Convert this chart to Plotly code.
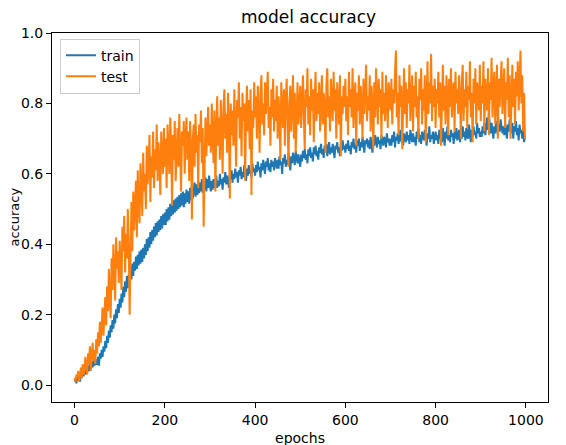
import plotly.graph_objects as go

epochs = list(range(0, 1000, 2))

train_acc = [
    0.01, 0.02, 0.005, 0.025, 0.015, 0.03, 0.01, 0.035, 0.02, 0.04, 0.025, 0.045, 0.03, 0.05, 0.035, 0.055, 0.04, 0.06, 0.045, 0.065, 0.05, 0.07, 0.055, 0.075, 0.06,
    0.06, 0.08, 0.055, 0.09, 0.075, 0.10, 0.08, 0.11, 0.095, 0.125, 0.105, 0.14, 0.12, 0.155, 0.135, 0.17, 0.15, 0.185, 0.16, 0.20, 0.175, 0.215, 0.19, 0.23, 0.205,
    0.245, 0.22, 0.26, 0.235, 0.28, 0.25, 0.295, 0.265, 0.31, 0.275, 0.315, 0.29, 0.335, 0.30, 0.345, 0.31, 0.35, 0.325, 0.365, 0.33, 0.37, 0.34, 0.38, 0.345, 0.385,
    0.35, 0.39, 0.36, 0.40, 0.37, 0.415, 0.38, 0.42, 0.39, 0.435, 0.40, 0.44, 0.41, 0.45, 0.42, 0.46, 0.425, 0.465, 0.435, 0.47, 0.44, 0.48, 0.445, 0.485, 0.455,
    0.49, 0.455, 0.50, 0.465, 0.505, 0.47, 0.515, 0.48, 0.52, 0.485, 0.525, 0.49, 0.53, 0.495, 0.535, 0.50, 0.54, 0.505, 0.545, 0.51, 0.55, 0.505, 0.545, 0.515, 0.555,
    0.52, 0.55, 0.515, 0.56, 0.525, 0.565, 0.53, 0.555, 0.575, 0.535, 0.57, 0.54, 0.58, 0.545, 0.575, 0.55, 0.585, 0.545, 0.58, 0.555, 0.59, 0.55, 0.585, 0.56, 0.595,
    0.57, 0.55, 0.58, 0.555, 0.585, 0.56, 0.575, 0.595, 0.56, 0.58, 0.565, 0.60, 0.57, 0.585, 0.555, 0.59, 0.575, 0.605, 0.57, 0.595, 0.58, 0.56, 0.60, 0.585, 0.61,
    0.575, 0.60, 0.585, 0.615, 0.59, 0.605, 0.575, 0.61, 0.595, 0.62, 0.585, 0.605, 0.59, 0.625, 0.60, 0.58, 0.615, 0.595, 0.625, 0.60, 0.61, 0.59, 0.63, 0.605, 0.615,
    0.595, 0.625, 0.605, 0.635, 0.61, 0.62, 0.59, 0.63, 0.61, 0.64, 0.615, 0.60, 0.635, 0.62, 0.645, 0.61, 0.63, 0.605, 0.64, 0.62, 0.635, 0.61, 0.645, 0.625, 0.615,
    0.64, 0.615, 0.65, 0.625, 0.635, 0.60, 0.645, 0.63, 0.655, 0.62, 0.64, 0.625, 0.66, 0.635, 0.61, 0.65, 0.63, 0.66, 0.64, 0.625, 0.665, 0.645, 0.63, 0.655, 0.64,
    0.62, 0.655, 0.635, 0.665, 0.645, 0.67, 0.64, 0.655, 0.63, 0.67, 0.65, 0.675, 0.645, 0.66, 0.635, 0.675, 0.655, 0.68, 0.65, 0.665, 0.64, 0.675, 0.66, 0.685, 0.655,
    0.67, 0.645, 0.68, 0.66, 0.685, 0.65, 0.67, 0.69, 0.655, 0.675, 0.66, 0.685, 0.665, 0.645, 0.68, 0.67, 0.69, 0.66, 0.675, 0.65, 0.685, 0.665, 0.695, 0.67, 0.68,
    0.66, 0.685, 0.67, 0.695, 0.665, 0.68, 0.655, 0.69, 0.675, 0.70, 0.67, 0.685, 0.66, 0.695, 0.68, 0.70, 0.665, 0.69, 0.675, 0.705, 0.68, 0.66, 0.695, 0.685, 0.70,
    0.675, 0.695, 0.67, 0.705, 0.685, 0.66, 0.70, 0.68, 0.71, 0.69, 0.675, 0.705, 0.685, 0.695, 0.67, 0.71, 0.69, 0.68, 0.705, 0.695, 0.675, 0.715, 0.69, 0.70, 0.68,
    0.70, 0.68, 0.71, 0.69, 0.72, 0.675, 0.705, 0.695, 0.715, 0.685, 0.70, 0.725, 0.69, 0.71, 0.68, 0.715, 0.70, 0.69, 0.72, 0.695, 0.71, 0.685, 0.725, 0.70, 0.69,
    0.715, 0.69, 0.705, 0.68, 0.72, 0.70, 0.73, 0.69, 0.71, 0.685, 0.72, 0.70, 0.695, 0.725, 0.705, 0.68, 0.715, 0.70, 0.735, 0.69, 0.71, 0.70, 0.72, 0.685, 0.705,
    0.72, 0.695, 0.71, 0.685, 0.725, 0.70, 0.715, 0.69, 0.73, 0.705, 0.68, 0.72, 0.70, 0.735, 0.695, 0.71, 0.69, 0.725, 0.705, 0.715, 0.685, 0.72, 0.70, 0.73, 0.695,
    0.71, 0.725, 0.69, 0.715, 0.70, 0.735, 0.705, 0.72, 0.695, 0.73, 0.71, 0.70, 0.74, 0.715, 0.69, 0.725, 0.705, 0.735, 0.71, 0.72, 0.70, 0.745, 0.715, 0.73, 0.705,
    0.72, 0.705, 0.735, 0.715, 0.745, 0.71, 0.73, 0.76, 0.725, 0.77, 0.74, 0.715, 0.745, 0.72, 0.70, 0.735, 0.715, 0.75, 0.725, 0.71, 0.74, 0.72, 0.755, 0.73, 0.715,
    0.735, 0.71, 0.745, 0.725, 0.70, 0.74, 0.72, 0.755, 0.73, 0.715, 0.745, 0.70, 0.735, 0.72, 0.75, 0.71, 0.73, 0.695, 0.74, 0.715, 0.725, 0.70, 0.735, 0.69, 0.705,
]

test_acc = [
    0.02, 0.01, 0.03, 0.02, 0.04, 0.01, 0.03, 0.05, 0.02, 0.06, 0.03, 0.04, 0.08, 0.05, 0.03, 0.09, 0.06, 0.11, 0.04, 0.08, 0.12, 0.07, 0.10, 0.06, 0.13,
    0.09, 0.15, 0.11, 0.18, 0.12, 0.16, 0.22, 0.14, 0.19, 0.25, 0.17, 0.28, 0.21, 0.33, 0.24, 0.19, 0.36, 0.27, 0.40, 0.30, 0.24, 0.42, 0.33, 0.38, 0.29,
    0.41, 0.34, 0.27, 0.45, 0.38, 0.48, 0.32, 0.43, 0.36, 0.50, 0.40, 0.20, 0.46, 0.52, 0.38, 0.55, 0.44, 0.49, 0.58, 0.42, 0.61, 0.50, 0.46, 0.63, 0.53,
    0.48, 0.66, 0.55, 0.60, 0.50, 0.68, 0.57, 0.63, 0.71, 0.52, 0.65, 0.59, 0.72, 0.56, 0.67, 0.61, 0.74, 0.58, 0.69, 0.63, 0.54, 0.72, 0.66, 0.60, 0.73,
    0.62, 0.70, 0.56, 0.74, 0.65, 0.60, 0.76, 0.68, 0.51, 0.71, 0.64, 0.75, 0.58, 0.69, 0.73, 0.62, 0.77, 0.66, 0.55, 0.72, 0.68, 0.75, 0.60, 0.70, 0.76,
    0.64, 0.72, 0.58, 0.75, 0.67, 0.47, 0.70, 0.74, 0.62, 0.77, 0.66, 0.71, 0.56, 0.74, 0.69, 0.78, 0.63, 0.73, 0.45, 0.70, 0.76, 0.65, 0.72, 0.79, 0.68,
    0.74, 0.66, 0.80, 0.70, 0.63, 0.78, 0.55, 0.72, 0.82, 0.68, 0.76, 0.64, 0.81, 0.73, 0.60, 0.79, 0.84, 0.70, 0.77, 0.66, 0.83, 0.74, 0.53, 0.80, 0.71,
    0.78, 0.68, 0.84, 0.74, 0.62, 0.81, 0.76, 0.86, 0.70, 0.79, 0.65, 0.83, 0.75, 0.80, 0.58, 0.77, 0.85, 0.72, 0.81, 0.67, 0.84, 0.54, 0.78, 0.73, 0.86,
    0.76, 0.82, 0.70, 0.85, 0.78, 0.66, 0.83, 0.88, 0.74, 0.80, 0.71, 0.86, 0.77, 0.82, 0.89, 0.73, 0.79, 0.68, 0.84, 0.76, 0.87, 0.72, 0.81, 0.75, 0.85,
    0.70, 0.82, 0.77, 0.64, 0.86, 0.79, 0.73, 0.84, 0.68, 0.81, 0.87, 0.75, 0.62, 0.80, 0.85, 0.72, 0.78, 0.88, 0.70, 0.83, 0.66, 0.79, 0.86, 0.74, 0.81,
    0.85, 0.73, 0.80, 0.88, 0.76, 0.67, 0.84, 0.79, 0.90, 0.74, 0.82, 0.71, 0.87, 0.78, 0.84, 0.69, 0.81, 0.89, 0.75, 0.83, 0.77, 0.86, 0.72, 0.80, 0.88,
    0.74, 0.83, 0.79, 0.66, 0.85, 0.90, 0.76, 0.82, 0.72, 0.87, 0.80, 0.75, 0.89, 0.78, 0.84, 0.70, 0.86, 0.81, 0.74, 0.88, 0.65, 0.82, 0.77, 0.85, 0.79,
    0.87, 0.75, 0.82, 0.71, 0.89, 0.79, 0.84, 0.76, 0.90, 0.73, 0.81, 0.86, 0.68, 0.83, 0.78, 0.88, 0.74, 0.85, 0.80, 0.70, 0.87, 0.77, 0.83, 0.91, 0.75,
    0.82, 0.78, 0.88, 0.72, 0.85, 0.80, 0.67, 0.86, 0.76, 0.90, 0.81, 0.74, 0.87, 0.79, 0.84, 0.70, 0.89, 0.77, 0.83, 0.75, 0.88, 0.80, 0.73, 0.86, 0.82,
    0.78, 0.87, 0.74, 0.84, 0.80, 0.89, 0.95, 0.76, 0.83, 0.71, 0.88, 0.79, 0.85, 0.67, 0.82, 0.90, 0.77, 0.86, 0.73, 0.84, 0.80, 0.91, 0.75, 0.83, 0.88,
    0.72, 0.85, 0.79, 0.89, 0.76, 0.82, 0.70, 0.87, 0.81, 0.90, 0.74, 0.84, 0.78, 0.88, 0.69, 0.83, 0.92, 0.77, 0.86, 0.80, 0.94, 0.75, 0.85, 0.79, 0.87,
    0.73, 0.84, 0.80, 0.89, 0.76, 0.86, 0.68, 0.82, 0.91, 0.78, 0.85, 0.74, 0.88, 0.81, 0.71, 0.87, 0.79, 0.90, 0.76, 0.83, 0.86, 0.72, 0.89, 0.80, 0.84,
    0.77, 0.88, 0.82, 0.70, 0.86, 0.91, 0.75, 0.84, 0.79, 0.89, 0.73, 0.85, 0.81, 0.92, 0.76, 0.83, 0.69, 0.87, 0.80, 0.90, 0.74, 0.86, 0.82, 0.78, 0.91,
    0.75, 0.85, 0.80, 0.92, 0.72, 0.87, 0.83, 0.78, 0.90, 0.71, 0.86, 0.81, 0.93, 0.76, 0.84, 0.89, 0.74, 0.82, 0.91, 0.70, 0.87, 0.79, 0.85, 0.92, 0.77,
    0.83, 0.90, 0.73, 0.86, 0.81, 0.93, 0.76, 0.88, 0.70, 0.84, 0.91, 0.79, 0.87, 0.74, 0.89, 0.82, 0.92, 0.78, 0.85, 0.95, 0.80, 0.88, 0.72, 0.83, 0.70,
]

assert len(train_acc) == len(epochs)
assert len(test_acc) == len(epochs)

x_ticks = [0, 200, 400, 600, 800, 1000]
y_ticks = [0.0, 0.2, 0.4, 0.6, 0.8, 1.0]

fig = go.Figure()
fig.add_trace(go.Scatter(x=epochs, y=train_acc, mode="lines", name="train",
                         line=dict(color="#1f77b4", width=2)))
fig.add_trace(go.Scatter(x=epochs, y=test_acc, mode="lines", name="test",
                         line=dict(color="#ff7f0e", width=2)))

axis_style = dict(showline=True, linecolor="black", linewidth=1, mirror=True,
                  ticks="outside", ticklen=5, tickcolor="black", showgrid=False,
                  zeroline=False, automargin=False,
                  tickfont=dict(size=14, color="black"))

# the page body has an 8px margin, so margins are shifted by that
fig.update_layout(
    width=566, height=445,
    margin=dict(l=44, r=26, t=25, b=51),
    paper_bgcolor="white", plot_bgcolor="white",
    font=dict(family="DejaVu Sans", color="black"),
    title=dict(text="model accuracy", x=0.531, xanchor="center",
               y=0.98, yanchor="middle", font=dict(size=17)),
    xaxis=dict(range=[-50, 1049], tickvals=x_ticks,
               title=dict(text="epochs", font=dict(size=14), standoff=6), **axis_style),
    yaxis=dict(range=[-0.048, 1.0], tickvals=y_ticks, tickformat=".1f", **axis_style),
    legend=dict(x=0.016, y=0.985, xanchor="left", yanchor="top",
                bgcolor="rgba(255,255,255,0.8)", bordercolor="#cccccc", borderwidth=1,
                font=dict(size=14)),
    showlegend=True,
)

# y axis title placed by hand, plotly puts it over the tick labels here
fig.add_annotation(text="accuracy", textangle=-90, xref="paper", yref="paper",
                   x=-0.0766, y=0.5, xanchor="center", yanchor="middle",
                   showarrow=False, font=dict(size=13))

fig.write_html("out.html")
